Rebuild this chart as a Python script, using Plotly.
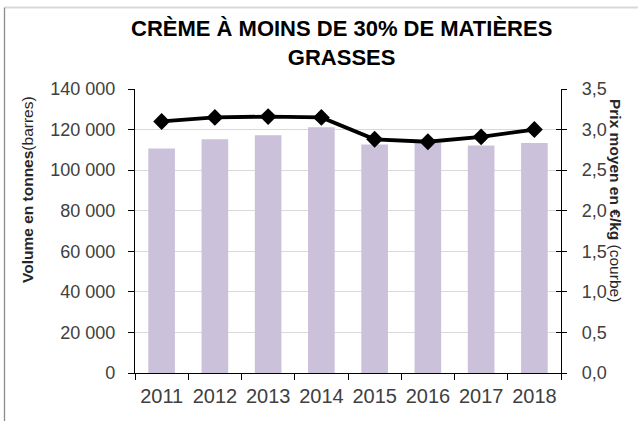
import plotly.graph_objects as go

years = ["2011", "2012", "2013", "2014", "2015", "2016", "2017", "2018"]
volumes = [110700, 115200, 117200, 121200, 112600, 113400, 112100, 113400]
prices = [3.10, 3.15, 3.16, 3.15, 2.88, 2.85, 2.91, 3.00]

W, H = 638, 421
L, R, T, B = 135, 77, 89, 48
pw, ph = W - L - R, H - T - B

def px(x):
    return (x - L) / pw

def py(y):
    return (H - B - y) / ph

FONT = "Liberation Sans, Arial, sans-serif"

fig = go.Figure()
fig.add_trace(go.Bar(x=years, y=volumes, marker=dict(color="#CBC1DB", line=dict(width=0)),
                     yaxis="y", hoverinfo="skip"))
fig.add_trace(go.Scatter(x=years, y=prices, yaxis="y2", mode="lines+markers",
                         line=dict(color="black", width=3.8),
                         marker=dict(symbol="diamond", size=13, color="black")))
fig.add_trace(go.Scatter(x=years, y=prices, yaxis="y3", mode="none", hoverinfo="skip"))

fig.update_layout(
    width=W, height=H,
    margin=dict(l=L, r=R, t=T, b=B, autoexpand=False),
    paper_bgcolor="white", plot_bgcolor="white",
    showlegend=False,
    bargap=0.5,
    separators=", ",
    font=dict(family=FONT, color="#404040"),
    xaxis=dict(type="category", showline=True, linecolor="black", linewidth=1.3,
               ticks="outside", ticklen=6, tickcolor="black", tickson="boundaries",
               tickfont=dict(size=20, color="#404040"), showgrid=False, tickangle=0,
               ticklabelstandoff=5,
               range=[-0.5, 7.5], automargin=False),
    yaxis=dict(range=[0, 140000], dtick=20000, tickformat=",.0f",
               showline=True, linecolor="black", linewidth=1.3,
               ticks="outside", ticklen=6, tickcolor="black",
               gridcolor="#D9D9D9", gridwidth=1.3, automargin=False,
               tickfont=dict(size=18, color="#404040"), ticklabelstandoff=9,
               zeroline=False),
    yaxis2=dict(range=[0, 3.5], dtick=0.5, tickformat=".1f", overlaying="y", side="right",
                showline=True, linecolor="black", linewidth=1.3, automargin=False,
                ticks="outside", ticklen=5, tickcolor="black", showgrid=False,
                tickfont=dict(size=18, color="#404040"), ticklabelstandoff=11,
                zeroline=False),
    yaxis3=dict(range=[0, 3.5], dtick=0.5, overlaying="y", side="right",
                showline=False, ticks="inside", ticklen=5, tickcolor="black",
                showticklabels=False, showgrid=False, zeroline=False, automargin=False),
)

fig.add_annotation(text="<b>CRÈME À MOINS DE 30% DE MATIÈRES<br>GRASSES</b>",
                   xref="paper", yref="paper", x=px(341), y=py(42.7),
                   xanchor="center", yanchor="middle", showarrow=False,
                   font=dict(size=22, color="black", family=FONT))
fig.add_annotation(text="<b>Volume en tonnes</b>(barres)", textangle=-90,
                   xref="paper", yref="paper", x=px(27), y=py(190),
                   xanchor="center", yanchor="middle", showarrow=False,
                   font=dict(size=15.5, color="#262626", family=FONT))
fig.add_annotation(text="<b>Prix moyen en €/kg</b> (courbe)", textangle=90,
                   xref="paper", yref="paper", x=px(616), y=py(200),
                   xanchor="center", yanchor="middle", showarrow=False,
                   font=dict(size=15.5, color="#262626", family=FONT))

# chart-area border (cropped Excel frame)
fig.add_shape(type="line", xref="paper", yref="paper", x0=px(4.5), x1=px(700),
              y0=py(7.5), y1=py(7.5), line=dict(color="#D9D9D9", width=2))
fig.add_shape(type="line", xref="paper", yref="paper", x0=px(4.5), x1=px(4.5),
              y0=py(7.5), y1=py(480), line=dict(color="#8C8C8C", width=1.3))

fig.write_html("out.html", config={"displayModeBar": False},
               post_script="document.body.style.margin='0';document.body.style.overflow='hidden';")
